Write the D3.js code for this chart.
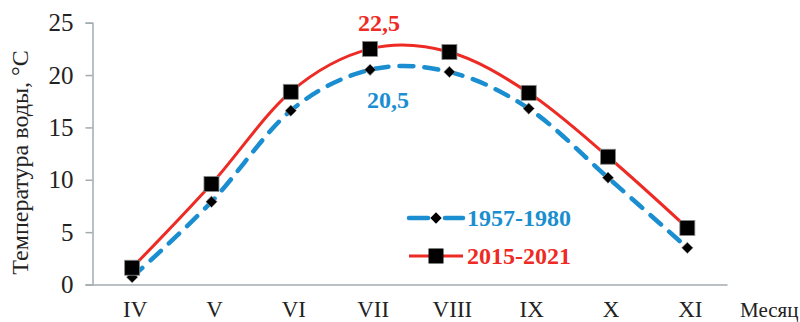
<!DOCTYPE html>
<html><head><meta charset="utf-8">
<script src="https://cdn.jsdelivr.net/npm/d3@7"></script>
<style>body{margin:0;background:#fff}svg{display:block}</style>
</head><body><svg id="c" width="800" height="322"></svg>
<script>
const months = ["IV","V","VI","VII","VIII","IX","X","XI"];
const series1957 = [0.7, 7.9, 16.6, 20.5, 20.3, 16.8, 10.2, 3.5];
const series2015 = [1.6, 9.6, 18.4, 22.5, 22.2, 18.3, 12.2, 5.4];
const yTicks = [0, 5, 10, 15, 20, 25];
const seriesNames = ["1957-1980", "2015-2021"];
const peakLabels = ["20,5", "22,5"];

const FONT = "'Liberation Serif', 'Times New Roman', serif";
const BLUE = "#1a8ed0", RED = "#ee2a24", AX = "#a3abaf";
const svg = d3.select("#c");
const x = d3.scaleBand().domain(months).range([92.5, 727]);
const y = d3.scaleLinear().domain([0, 25]).range([284.5, 22.7]);
const cx = m => x(m) + x.bandwidth() / 2;

// axes
const ya = svg.append("g").attr("transform", "translate(92.5,0)")
  .call(d3.axisLeft(y).tickValues(yTicks).tickSize(7).tickPadding(12));
ya.select(".domain").attr("stroke", AX).attr("stroke-width", 1.5);
ya.selectAll(".tick line").attr("stroke", AX).attr("stroke-width", 1.5);
ya.selectAll("text").style("font-family", FONT).attr("font-size", 25).attr("fill", "#222");

const xa = svg.append("g").attr("transform", "translate(0,284.5)")
  .call(d3.axisBottom(x).tickSize(0).tickPadding(16));
xa.select(".domain").attr("stroke", AX).attr("stroke-width", 1.5);
xa.selectAll("text").style("font-family", FONT).attr("font-size", 23).attr("fill", "#222")
  .attr("dx", 3);

svg.append("text").attr("x", 740).attr("y", 317).style("font-family", FONT)
  .attr("font-size", 21).attr("fill", "#222").text("Месяц");
svg.append("text").attr("transform", "translate(28,162.5) rotate(-90)")
  .attr("text-anchor", "middle").style("font-family", FONT).attr("font-size", 24)
  .attr("fill", "#222").text("Температура воды, °С");

const line = d3.line().x((d, i) => cx(months[i])).y(d => y(d)).curve(d3.curveCatmullRom.alpha(0));

svg.append("path").datum(series1957).attr("d", line).attr("fill", "none")
  .attr("stroke", BLUE).attr("stroke-width", 4.5).attr("stroke-dasharray", "14,11")
  .attr("stroke-linecap", "round");
svg.append("path").datum(series2015).attr("d", line).attr("fill", "none")
  .attr("stroke", RED).attr("stroke-width", 3);

const diamond = d3.symbol().type(d3.symbolSquare).size(64);
svg.selectAll(".dm").data(series1957).enter().append("path")
  .attr("d", diamond)
  .attr("transform", (d, i) => `translate(${cx(months[i])},${y(d)}) rotate(45)`)
  .attr("fill", "#000").attr("stroke", "#999").attr("stroke-width", 0.6);
svg.selectAll(".sq").data(series2015).enter().append("rect")
  .attr("x", (d, i) => cx(months[i]) - 7.5).attr("y", d => y(d) - 7.5)
  .attr("width", 15).attr("height", 15)
  .attr("fill", "#000").attr("stroke", "#888").attr("stroke-width", 0.8);

// peak labels
svg.append("text").attr("x", cx("VII") + 9).attr("y", y(series2015[3]) - 18)
  .attr("text-anchor", "middle").style("font-family", FONT).attr("font-weight", "bold")
  .attr("font-size", 24).attr("fill", RED).text(peakLabels[1]);
svg.append("text").attr("x", cx("VII") + 18).attr("y", y(series1957[3]) + 38)
  .attr("text-anchor", "middle").style("font-family", FONT).attr("font-weight", "bold")
  .attr("font-size", 24).attr("fill", BLUE).text(peakLabels[0]);

// legend
const lg = svg.append("g");
const ly1 = 218, ly2 = 256, lx0 = 409, lx1 = 463, lmx = 436;
lg.append("line").attr("x1", lx0).attr("x2", 428).attr("y1", ly1).attr("y2", ly1)
  .attr("stroke", BLUE).attr("stroke-width", 4.5).attr("stroke-linecap", "round");
lg.append("line").attr("x1", 445).attr("x2", lx1).attr("y1", ly1).attr("y2", ly1)
  .attr("stroke", BLUE).attr("stroke-width", 4.5).attr("stroke-linecap", "round");
lg.append("path").attr("d", diamond).attr("transform", `translate(${lmx},${ly1}) rotate(45)`)
  .attr("fill", "#000");
lg.append("line").attr("x1", lx0).attr("x2", lx1).attr("y1", ly2).attr("y2", ly2)
  .attr("stroke", RED).attr("stroke-width", 3);
lg.append("rect").attr("x", lmx - 7.5).attr("y", ly2 - 7.5).attr("width", 15).attr("height", 15)
  .attr("fill", "#000");
lg.append("text").attr("x", 467).attr("y", ly1 + 8).style("font-family", FONT)
  .attr("font-weight", "bold").attr("font-size", 24).attr("fill", BLUE).text(seriesNames[0]);
lg.append("text").attr("x", 467).attr("y", ly2 + 8).style("font-family", FONT)
  .attr("font-weight", "bold").attr("font-size", 24).attr("fill", RED).text(seriesNames[1]);
</script></body></html>
